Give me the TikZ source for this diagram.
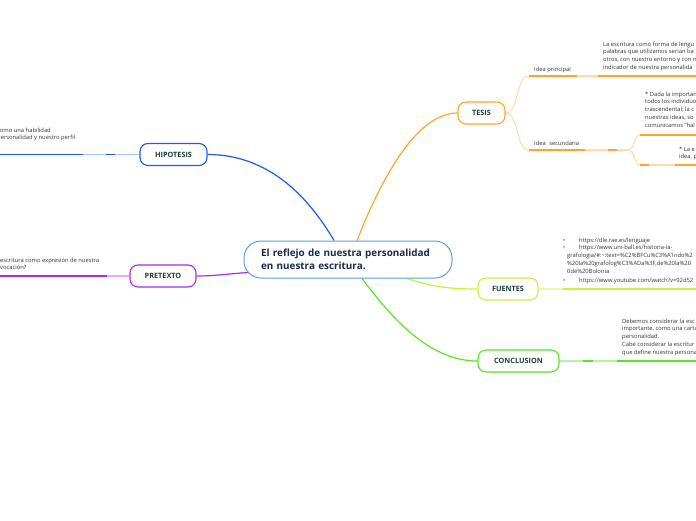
\documentclass[tikz,border=0pt]{standalone}
\usepackage{fontspec}
\setmainfont{Open Sans}
\usetikzlibrary{positioning, calc, backgrounds}
\definecolor{rootC}{HTML}{5B9FD8}
\definecolor{rootT}{HTML}{1B2A4E}
\definecolor{nodeT}{HTML}{1C4036}
\definecolor{hipoC}{HTML}{1F5AF0}
\definecolor{hipoL}{HTML}{A9C1FA}
\definecolor{tesisC}{HTML}{FFA329}
\definecolor{tesisL}{HTML}{FFDCAE}
\definecolor{pretC}{HTML}{A52CF0}
\definecolor{pretL}{HTML}{DDB2FA}
\definecolor{fuenC}{HTML}{C9F23A}
\definecolor{fuenL}{HTML}{E6FAA8}
\definecolor{concC}{HTML}{5BE32A}
\definecolor{concL}{HTML}{B8F3A0}
\tikzset{
  root/.style   ={draw=rootC, fill=white, rounded corners=17pt, line width=1pt,
                  font=\bfseries\fontsize{9.9}{12.8}\selectfont, text=rootT,
                  align=left, text width=174pt, minimum width=208pt, minimum height=37pt},
  topic/.style  ={fill=white, rounded corners=8pt, line width=1.1pt,
                  font=\bfseries\fontsize{7.3}{8}\selectfont, text=nodeT,
                  minimum height=22pt, inner sep=0pt},
  lbl/.style    ={font=\fontsize{5.8}{7}\selectfont, text=black!80, inner sep=0pt},
  note/.style   ={font=\fontsize{5.8}{7.8}\selectfont, text=black!80,
                  align=left, inner sep=0pt, anchor=north west},
  link/.style   ={line width=1.2pt},
  under/.style  ={line width=1.7pt},
  faint/.style  ={line width=1.1pt},
}
\begin{document}
\begin{tikzpicture}[x=1pt, y=-1pt]
\useasboundingbox (0,0) rectangle (696,520);
\clip (0,0) rectangle (696,520);

% central idea and main topics
\node[root] (root) at (348,259.5) {El reflejo de nuestra personalidad\\en nuestra escritura.};
\node[topic, draw=hipoC, minimum width=67pt] (hipo) at (173.5,154.5) {HIPOTESIS};
\node[topic, draw=tesisC, minimum width=47pt] (tesis) at (481.5,113) {TESIS};
\node[topic, draw=pretC, minimum width=66pt] (pret) at (163,276) {PRETEXTO};
\node[topic, draw=fuenC, minimum width=60pt] (fuen) at (508,289) {FUENTES};
\node[topic, draw=concC, minimum width=81pt] (conc) at (518.5,361) {CONCLUSION};

% subtopics of TESIS
\node[lbl, anchor=base west] (ipLab) at (534,71) {Idea principal};
\node[lbl, anchor=base west] (isLab) at (534,145) {Idea\hspace{2pt} secundaria};

% notes
\node[note] (ipText) at (603,41.5) {La escritura como forma de lengu\\palabras que utilizamos serian ba\\otros, con nuestro entorno y con n\\indicador de nuestra personalida};
\node[note] (suText) at (645,91.5) {* Dada la importan\\todos los individuo\\trascendental; la c\\nuestras ideas, so\\comunicamos "hal};
\node[note] (slText) at (679,146.5) {* La e\\idea, p};
\node[note] (hipoText) at (-3,127.5) {como una habilidad\\personalidad y nuestro perfil};
\node[note] (pretText) at (0,257.5) {escritura como expresión de nuestra\\vocación?};
\node[note] (fuenText) at (567,237.5) {\hspace*{-4pt}\makebox[16pt][l]{•}https://dle.rae.es/lenguaje\\
  \hspace*{-4pt}\makebox[16pt][l]{•}https://www.uni-ball.es/historia-la-\\
  grafologia/\#:\textasciitilde:text=\%C2\%BFCu\%C3\%A1ndo\%2\\
  \%20la\%20grafolog\%C3\%ADa\%3F,de\%20la\%20\\
  0de\%20Bolonia\\[1.5pt]
  \hspace*{-4pt}\makebox[16pt][l]{•}https://www.youtube.com/watch?v=92d52};
\node[note] (concText) at (622,318.5) {Debemos considerar la esc\\importante, como una carta\\personalidad.\\Cabe considerar la escritur\\que define nuestra persona};

% underline points
\coordinate (ipA) at (529,76);  \coordinate (ipB) at (577,76);
\coordinate (ipC) at (598,76);  \coordinate (ipD) at (700,76);
\coordinate (isA) at (529,150); \coordinate (isB) at (585,150);
\coordinate (isC) at (608,150); \coordinate (isD) at (617,150);
\coordinate (isE) at (628,150);
\coordinate (suA) at (640,135); \coordinate (suB) at (700,135);
\coordinate (slA) at (640,165); \coordinate (slB) at (649,165);
\coordinate (slC) at (675,165); \coordinate (slD) at (700,165);
\coordinate (hpA) at (115,154.5); \coordinate (hpB) at (106,154.5);
\coordinate (hpC) at (83,154.5);  \coordinate (hpD) at (-5,154.5);
\coordinate (prA) at (107,276);   \coordinate (prB) at (-5,276);
\coordinate (fuA) at (563,289);   \coordinate (fuB) at (700,289);
\coordinate (coA) at (583,361);   \coordinate (coB) at (593,361);
\coordinate (coC) at (617,361);   \coordinate (coD) at (700,361);

\begin{scope}[on background layer]
% main branches
\draw[link, hipoC] (hipo.east) .. controls +(63,0) and +(-24,-41) .. ([xshift=-14pt]root.north);
\draw[link, tesisC] ([xshift=9pt]root.north) .. controls +(28,-71) and +(-38,0) .. (tesis.west);
\draw[link, pretC] ($(root.west)+(6,13)$) .. controls +(-20,1) and +(20,0) .. (pret.east);
\draw[link, fuenC] ($(root.south)+(59,0)$) .. controls +(25,8) and +(-30,0) .. (fuen.west);
\draw[link, concC] ($(root.south)+(14,0)$) .. controls +(30,40) and +(-48,0) .. (conc.west);

% TESIS
\draw[faint, tesisL] (tesis.east) .. controls +(14,0) and +(-14,0) .. (ipA);
\draw[faint, tesisL] (tesis.east) .. controls +(14,0) and +(-14,0) .. (isA);
\draw[under, tesisC] (ipA) -- (ipB);
\draw[faint, tesisL] (ipB) -- (ipC);
\draw[under, tesisC] (ipC) -- (ipD);
\draw[under, tesisC] (isA) -- (isB);
\draw[faint, tesisL] (isB) -- (isC);
\draw[under, tesisC] (isC) -- (isD);
\draw[faint, tesisL] (isD) -- (isE);
\draw[faint, tesisL] (isE) .. controls +(7,0) and +(-6,0) .. (suA);
\draw[faint, tesisL] (isE) .. controls +(7,0) and +(-6,0) .. (slA);
\draw[under, tesisC] (suA) -- (suB);
\draw[under, tesisC] (slA) -- (slB);
\draw[faint, tesisL] (slB) -- (slC);
\draw[under, tesisC] (slC) -- (slD);

% HIPOTESIS
\draw[faint, hipoL] (hipo.west) -- (hpA);
\draw[under, hipoC] (hpA) -- (hpB);
\draw[faint, hipoL] (hpB) -- (hpC);
\draw[under, hipoC] (hpC) -- (hpD);

% PRETEXTO
\draw[faint, pretL] (pret.west) -- (prA);
\draw[under, pretC] (prA) -- (prB);

% FUENTES
\draw[faint, fuenL] (fuen.east) -- (fuA);
\draw[under, fuenC] (fuA) -- (fuB);

% CONCLUSION
\draw[faint, concL] (conc.east) -- (coA);
\draw[under, concC] (coA) -- (coB);
\draw[faint, concL] (coB) -- (coC);
\draw[under, concC] (coC) -- (coD);
\end{scope}

\end{tikzpicture}
\end{document}
